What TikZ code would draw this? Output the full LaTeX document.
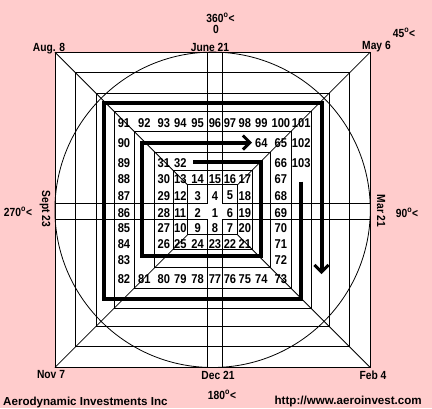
\documentclass[tikz,border=0pt]{standalone}
\usepackage{fontspec}
\setmainfont{Liberation Sans}
\newfontfamily\gannfont[FakeStretch=0.87]{Liberation Sans}
\usetikzlibrary{arrows.meta}
\definecolor{gannpink}{RGB}{255,204,204}
\tikzset{
  num/.style={font=\gannfont\bfseries\fontsize{12.8}{13}\selectfont, inner sep=0pt},
  lbl/.style={font=\gannfont\bfseries\fontsize{11.8}{12}\selectfont, inner sep=0pt, anchor=base},
  foot/.style={font=\bfseries\fontsize{11.6}{12}\selectfont, inner sep=0pt},
  thin line/.style={line width=0.8pt},
  spiral/.style={line width=4pt, line join=miter},
  spiral tip/.style={-{Straight Barb[length=7pt,width=14pt,line width=3pt]}}
}
\begin{document}
\begin{tikzpicture}[x=1pt,y=-1pt]
    \useasboundingbox (0,0) rectangle (432,408);
    \fill[gannpink] (0,0) rectangle (432,408);
    \fill[white] (54.9,52.1) rectangle (370.3,367.5);

    % nested squares
    \foreach \h in {157.7,137,116.5,98.5,78.7,57.8,39.6,25}
        \draw[thin line] (212.6-\h,209.8-\h) rectangle (212.6+\h,209.8+\h);

    % central cross
    \draw[thin line] (207.5,52.1) -- (207.5,203.5) -- (54.9,203.5);
    \draw[thin line] (222.5,52.1) -- (222.5,203.5) -- (370.3,203.5);
    \draw[thin line] (54.9,219) -- (207.5,219) -- (207.5,367.5);
    \draw[thin line] (370.3,219) -- (222.5,219) -- (222.5,367.5);

    % diagonals
    \draw[thin line] (54.9,52.1) -- (187.6,184.8);
    \draw[thin line] (370.3,52.1) -- (237.6,184.8);
    \draw[thin line] (54.9,367.5) -- (187.6,234.8);
    \draw[thin line] (370.3,367.5) -- (237.6,234.8);

    \draw[thin line] (212.6,209.8) circle[radius=157.7];

    % spirals
    \draw[spiral, spiral tip] (193.3,161.7) -- (261,161.7) -- (261,256.3) -- (141.7,256.3) -- (141.7,142.5) -- (252,142.5);
    \draw[spiral, spiral tip] (300.5,181.7) -- (300.5,299) -- (104.3,299) -- (104.3,103.3) -- (321.5,103.3) -- (321.5,274);

    % numbers, row by row
    \foreach \n/\x in {91/124,92/144.4,93/163.9,94/180.3,95/197.6,96/215,97/230,98/244.9,99/261.3,100/280.9,101/301.2}
        \node[num] (n\n) at (\x,123.5) {\n};
    \foreach \n/\x in {90/124,64/261.3,65/280.9,102/301.2}
        \node[num] (n\n) at (\x,143) {\n};
    \foreach \n/\x in {89/124,31/163.9,32/180.3,66/280.9,103/301.2}
        \node[num] (n\n) at (\x,162.6) {\n};
    \foreach \n/\x in {88/124,30/163.9,13/180.3,14/197.6,15/215,16/230,17/244.9,67/280.9}
        \node[num] (n\n) at (\x,179) {\n};
    \foreach \n/\x in {87/124,29/163.9,12/180.3,3/197.6,4/215,5/230,18/244.9,68/280.9}
        \node[num] (n\n) at (\x,195.6) {\n};
    \foreach \n/\x in {86/124,28/163.9,11/180.3,2/197.6,1/215,6/230,19/244.9,69/280.9}
        \node[num] (n\n) at (\x,212.8) {\n};
    \foreach \n/\x in {85/124,27/163.9,10/180.3,9/197.6,8/215,7/230,20/244.9,70/280.9}
        \node[num] (n\n) at (\x,228.4) {\n};
    \foreach \n/\x in {84/124,26/163.9,25/180.3,24/197.6,23/215,22/230,21/244.9,71/280.9}
        \node[num] (n\n) at (\x,243.6) {\n};
    \foreach \n/\x in {83/124,72/280.9}
        \node[num] (n\n) at (\x,260) {\n};
    \foreach \n/\x in {82/124,81/144.4,80/163.9,79/180.3,78/197.6,77/215,76/230,75/244.9,74/261.3,73/280.9}
        \node[num] (n\n) at (\x,279.5) {\n};

    % dates and angles
    \node[lbl] (deg360) at (220.5,22) {360\textsuperscript{o}<};
    \node[lbl] (deg0) at (216,33) {0};
    \node[lbl] (deg45) at (404,37) {45\textsuperscript{o}<};
    \node[lbl] (aug) at (49,51) {Aug. 8};
    \node[lbl] (june) at (210,51) {June 21};
    \node[lbl] (may) at (376.5,49.5) {May 6};
    \node[lbl] (deg270) at (18,216) {270\textsuperscript{o}<};
    \node[lbl, rotate=-90] (sept) at (42,209) {Sept 23};
    \node[lbl, rotate=-90] (mar) at (377,211) {Mar 21};
    \node[lbl] (deg90) at (407,217) {90\textsuperscript{o}<};
    \node[lbl] (nov) at (51,378) {Nov 7};
    \node[lbl] (dec) at (218,379) {Dec 21};
    \node[lbl] (feb) at (373,379) {Feb 4};
    \node[lbl] (deg180) at (222,399) {180\textsuperscript{o}<};

    \node[foot, anchor=base west] (firm) at (3,405) {Aerodynamic Investments Inc};
    \node[foot, anchor=base east] (url) at (422,404.5) {http://www.aeroinvest.com};
\end{tikzpicture}
\end{document}
